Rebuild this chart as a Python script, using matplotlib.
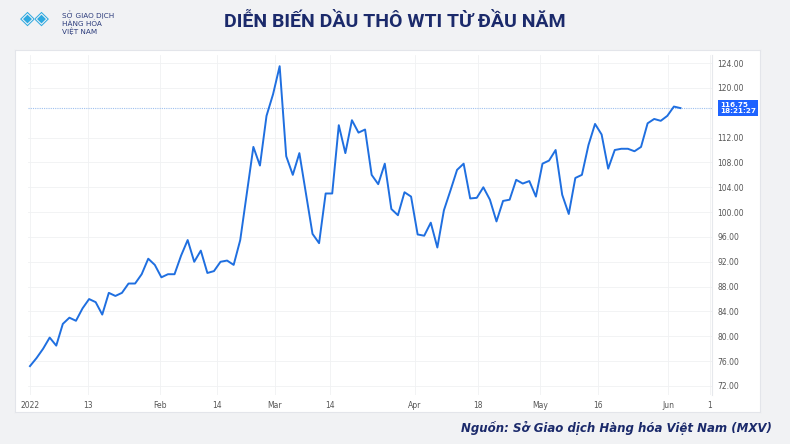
import matplotlib
matplotlib.use("Agg")
import matplotlib.pyplot as plt

prices = [75.2, 76.5, 78.0, 79.8, 78.5, 82.0, 83.0, 82.5, 84.5, 86.0, 85.5, 83.5, 87.0, 86.5,
          87.0, 88.5, 88.5, 90.0, 92.5, 91.5, 89.5, 90.0, 90.0, 93.0, 95.5, 92.0, 93.8, 90.2,
          90.5, 92.0, 92.2, 91.5, 95.5, 103.0, 110.5, 107.5, 115.5, 119.0, 123.5, 109.0, 106.0,
          109.5, 103.0, 96.5, 95.0, 103.0, 103.0, 114.0, 109.5, 114.8, 112.8, 113.3, 106.0,
          104.5, 107.8, 100.5, 99.5, 103.2, 102.5, 96.4, 96.2, 98.3, 94.3, 100.3, 103.5, 106.8,
          107.8, 102.2, 102.3, 104.0, 102.0, 98.5, 101.8, 102.0, 105.2, 104.6, 105.0, 102.5,
          107.8, 108.3, 110.0, 102.8, 99.7, 105.5, 106.0, 110.8, 114.2, 112.5, 107.0, 110.0,
          110.2, 110.2, 109.8, 110.5, 114.3, 115.0, 114.7, 115.5, 117.0, 116.75]
last_price = 116.75
last_time = "18:21:27"
x_tick_pos = [0, 8.8, 19.8, 28.5, 37.3, 45.7, 58.6, 68.2, 77.6, 86.5, 97.1, 103.5]
x_tick_labels = ["2022", "13", "Feb", "14", "Mar", "14", "Apr", "18", "May", "16", "Jun", "1"]
y_ticks = [72, 76, 80, 84, 88, 92, 96, 100, 104, 108, 112, 120, 124]

W, H = 790, 444
fig = plt.figure(figsize=(W/100, H/100), dpi=100)
fig.patch.set_facecolor("#f1f2f4")
bg = fig.add_axes([15/W, 1-412/H, 745/W, 362/H], zorder=0)
bg.set_facecolor("white")
bg.set_xticks([]); bg.set_yticks([])
for s in bg.spines.values():
    s.set_color("#e3e5ea"); s.set_linewidth(0.8)

xs = list(range(len(prices)))
ax = fig.add_axes([28/W, 1-395/H, (712-28)/W, 340/H], zorder=1)
ax.set_facecolor("white")
ax.plot(xs, prices, color="#1f6fe0", lw=1.4, zorder=3)
ax.axhline(last_price, color="#9ec0ee", lw=0.8, ls=(0, (1, 1)), zorder=2)
ax.set_xlim(-0.3, 103.8)
ax.set_ylim(70.55, 125.3)
ax.yaxis.tick_right()
ax.set_yticks(y_ticks)
ax.set_yticklabels([f"{v:.2f}" for v in y_ticks], fontsize=5.5, color="#555")
ax.set_xticks(x_tick_pos)
ax.set_xticklabels(x_tick_labels, fontsize=5.5, color="#555")
ax.tick_params(length=0, pad=4)
ax.grid(True, color="#f0f1f3", lw=0.6)
for s in ax.spines.values():
    s.set_visible(False)
ax.spines["right"].set_visible(True)
ax.spines["right"].set_color("#e6e8ec")
ax.text(1.012, (last_price-70.55)/(125.3-70.55), f"{last_price:.2f}\n{last_time}",
        transform=ax.transAxes, fontsize=5.2, color="white", fontweight="bold",
        va="center", ha="left", linespacing=1.1,
        bbox=dict(boxstyle="square,pad=0.25", fc="#1e63ff", ec="none"))

fig.text(0.5, 1-22/H, "DIỄN BIẾN DẦU THÔ WTI TỪ ĐẦU NĂM", ha="center", va="center",
         fontsize=14, fontweight="bold", color="#1b2a6b", family="Roboto")
fig.text(772/W, 1-428/H, "Nguồn: Sở Giao dịch Hàng hóa Việt Nam (MXV)", ha="right",
         va="center", fontsize=8.5, fontweight="bold", style="italic", color="#1b2a6b")
fig.text(62/W, 1-11/H, "SỞ GIAO DỊCH\nHÀNG HÓA\nVIỆT NAM", ha="left", va="top",
         fontsize=5.2, color="#2a3a7a", linespacing=1.1)
fig.text(35/W, 1-18/H, "◈◈", ha="center", va="center", fontsize=14, color="#2ea9e0")
fig.savefig("out.png", dpi=100, facecolor=fig.get_facecolor())
